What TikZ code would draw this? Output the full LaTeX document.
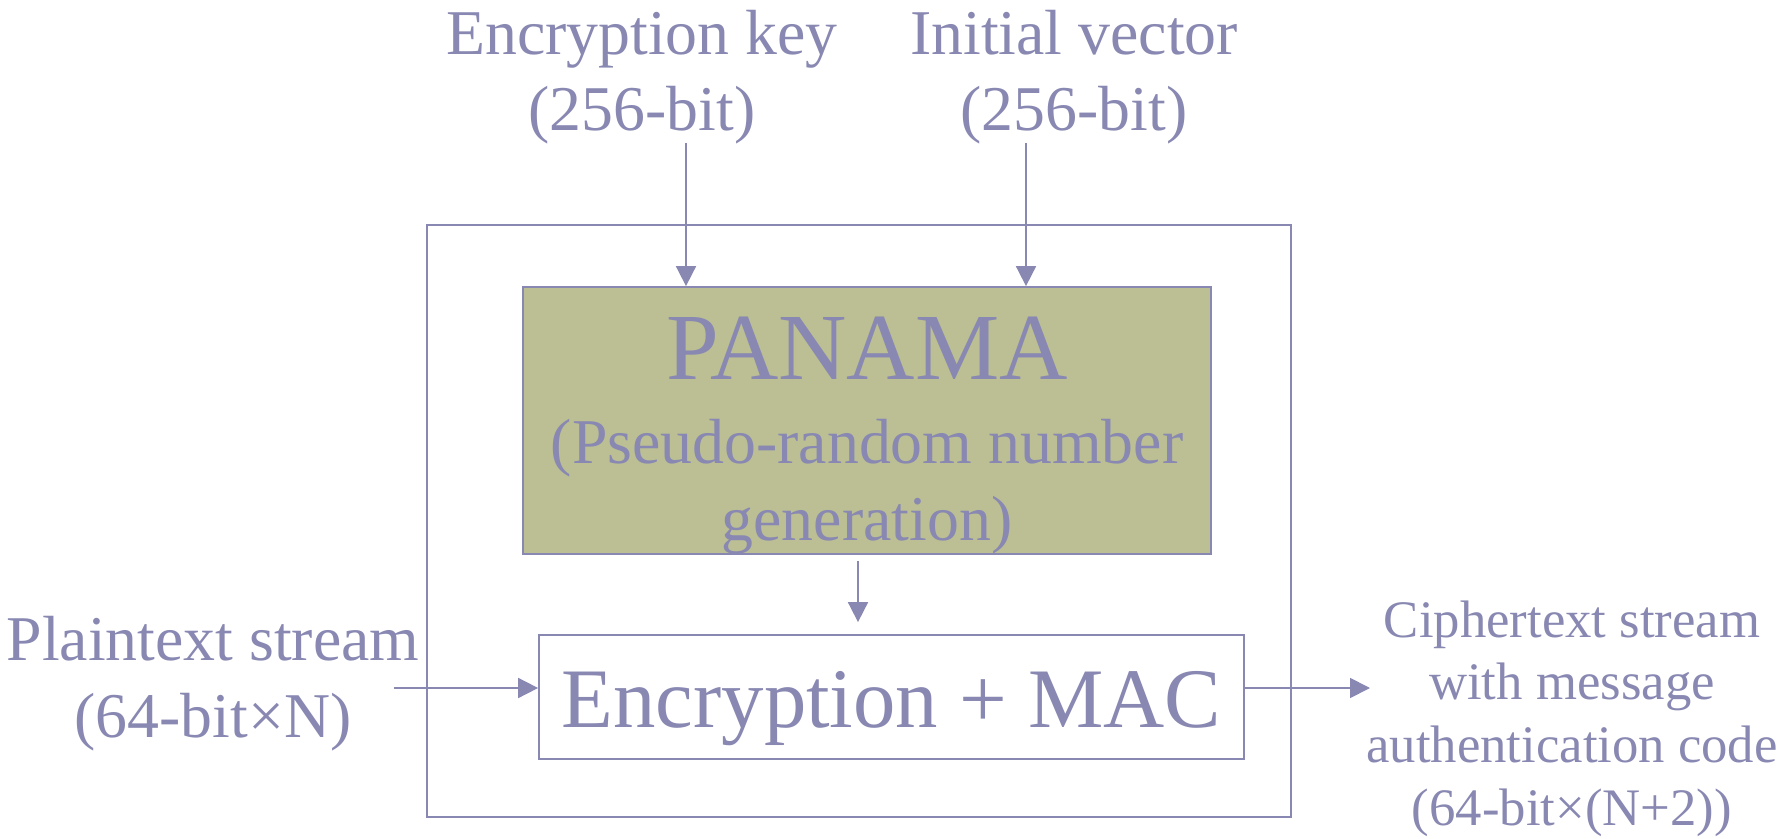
\documentclass[tikz,border=0pt]{standalone}
\usepackage{fontspec}
\setmainfont{Liberation Serif}
\usepackage{tikz}
\usetikzlibrary{arrows.meta, positioning}

\begin{document}
\begin{tikzpicture}[>={Triangle[length=0.4cm, width=0.4cm]}, line width=1pt,
    every node/.style={align=center, inner sep=0pt, text=inkblue},
    lbl/.style={font=\fontsize{36.3}{43.5}\selectfont},
    smalllbl/.style={font=\fontsize{30}{35.7}\selectfont},
    panamabox/.style={draw=inkblue, fill=olivebg, minimum width=13.76cm, minimum height=5.34cm},
    encbox/.style={draw=inkblue, fill=white, minimum width=14.1cm, minimum height=2.48cm,
      font=\fontsize{48.2}{58}\selectfont, text height=35pt, text depth=0pt}]
  \definecolor{inkblue}{RGB}{136,136,178}
  \definecolor{olivebg}{RGB}{187,191,147}
  \useasboundingbox (0,0) rectangle (35.82,-16.78);

  % outer frame
  \draw[inkblue] (8.54,-4.5) rectangle (25.82,-16.34);

  % boxes
  \node[panamabox] (panama) at (17.34,-8.41) {};
  \node[lbl] (panamatxt) at (17.34,-8.71) {{\fontsize{53.9}{60}\selectfont PANAMA}\\[4.5pt]
    (Pseudo-random number\\generation)};
  \node[encbox] (enc) at (17.83,-13.94) {Encryption + MAC};

  % inputs and outputs
  \node[lbl] (keylbl) at (12.84,-1.54) {Encryption key\\(256-bit)};
  \node[lbl] (ivlbl) at (21.48,-1.54) {Initial vector\\(256-bit)};
  \node[lbl] (ptlbl) at (4.26,-13.67) {Plaintext stream\\(64-bit×N)};
  \node[smalllbl] (ctlbl) at (31.44,-14.37) {Ciphertext stream\\with message\\authentication code\\(64-bit×(N+2))};

  \coordinate (keyin) at (13.72,-2.86);
  \coordinate (ivin) at (20.52,-2.86);
  \coordinate (ptin) at (7.88,-13.76);
  \coordinate (ctout) at (27.4,-13.76);

  \draw[->, inkblue] (keyin) -- (keyin |- panama.north);
  \draw[->, inkblue] (ivin) -- (ivin |- panama.north);
  \draw[->, inkblue, shorten <=0.12cm, shorten >=0.24cm] ([xshift=-0.18cm]panama.south) -- ([xshift=-0.18cm]panama.south |- enc.north);
  \draw[->, inkblue] (ptin) -- (ptin -| enc.west);
  \draw[->, inkblue] (ctout -| enc.east) -- (ctout);
\end{tikzpicture}
\end{document}
